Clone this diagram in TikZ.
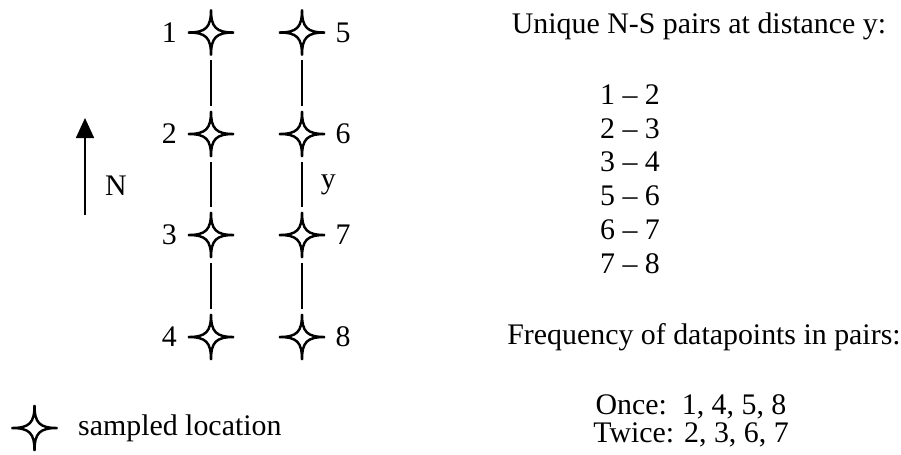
\documentclass[tikz,border=0pt]{standalone}
\usepackage{fontspec}
\setmainfont{Liberation Serif}
\usetikzlibrary{positioning,arrows.meta}

\tikzset{
  site/.style={minimum size=0.98cm, inner sep=0pt, path picture={
      \draw[shift={(path picture bounding box.center)}, line width=1.4pt]
        (0,0.46) .. controls (0,0.1) and (0.1,0) .. (0.46,0)
        .. controls (0.1,0) and (0,-0.1) .. (0,-0.46)
        .. controls (0,-0.1) and (-0.1,0) .. (-0.46,0)
        .. controls (-0.1,0) and (0,0.1) .. cycle;}}
}

\begin{document}
\begin{tikzpicture}[tag/.style={inner sep=0pt, font=\fontsize{17}{20}\selectfont},
    link/.style={line width=1pt, shorten <=0.06cm, shorten >=0.06cm}]
    \useasboundingbox (0,0) rectangle (18.02,-9.08);

    % sampled locations
    \node[site] (s1) at (4.22,-0.65) {};
    \node[site] (s2) at (4.22,-2.68) {};
    \node[site] (s3) at (4.22,-4.70) {};
    \node[site] (s4) at (4.22,-6.74) {};

    \node[site] (s5) at (6.04,-0.65) {};
    \node[site] (s6) at (6.04,-2.68) {};
    \node[site] (s7) at (6.04,-4.70) {};
    \node[site] (s8) at (6.04,-6.74) {};

    \node[tag, left=0.18cm of s1] (n1) {1};
    \node[tag, left=0.18cm of s2] (n2) {2};
    \node[tag, left=0.18cm of s3] (n3) {3};
    \node[tag, left=0.18cm of s4] (n4) {4};
    \node[tag, right=0.17cm of s5] (n5) {5};
    \node[tag, right=0.17cm of s6] (n6) {6};
    \node[tag, right=0.17cm of s7] (n7) {7};
    \node[tag, right=0.17cm of s8] (n8) {8};

    % N-S pairs
    \draw[link] (s1) -- (s2);
    \draw[link] (s2) -- (s3);
    \draw[link] (s3) -- (s4);
    \draw[link] (s5) -- (s6);
    \draw[link] (s6) -- node[tag, right=0.36cm] (dist) {y} (s7);
    \draw[link] (s7) -- (s8);

    % north
    \coordinate (ntail) at (1.70,-4.30);
    \coordinate (nhead) at (1.70,-2.36);
    \draw[-{Triangle[width=0.36cm,length=0.40cm]}, line width=1pt] (ntail) -- (nhead);
    \node[tag] (north) at (2.32,-3.72) {N};

    % legend
    \node[site] (key) at (0.69,-8.56) {};
    \node[tag, right=0.37cm of key] (keytext) {sampled location};

    % right hand text
    \node[tag, anchor=base] (head1) at (13.98,-0.66) {Unique N-S pairs at distance y:};
    \node[tag, anchor=north, align=center, font=\fontsize{17}{19.3}\selectfont] (pairs) at (12.60,-1.68)
        {1 -- 2\\2 -- 3\\3 -- 4\\5 -- 6\\6 -- 7\\7 -- 8};
    \node[tag, anchor=base] (head2) at (14.08,-6.88) {Frequency of datapoints in pairs:};
    \node[tag, anchor=north, align=center, font=\fontsize{17}{15.9}\selectfont] (freq) at (13.82,-7.88)
        {Once:\ \ 1, 4, 5, 8\\Twice: 2, 3, 6, 7};
\end{tikzpicture}
\end{document}
